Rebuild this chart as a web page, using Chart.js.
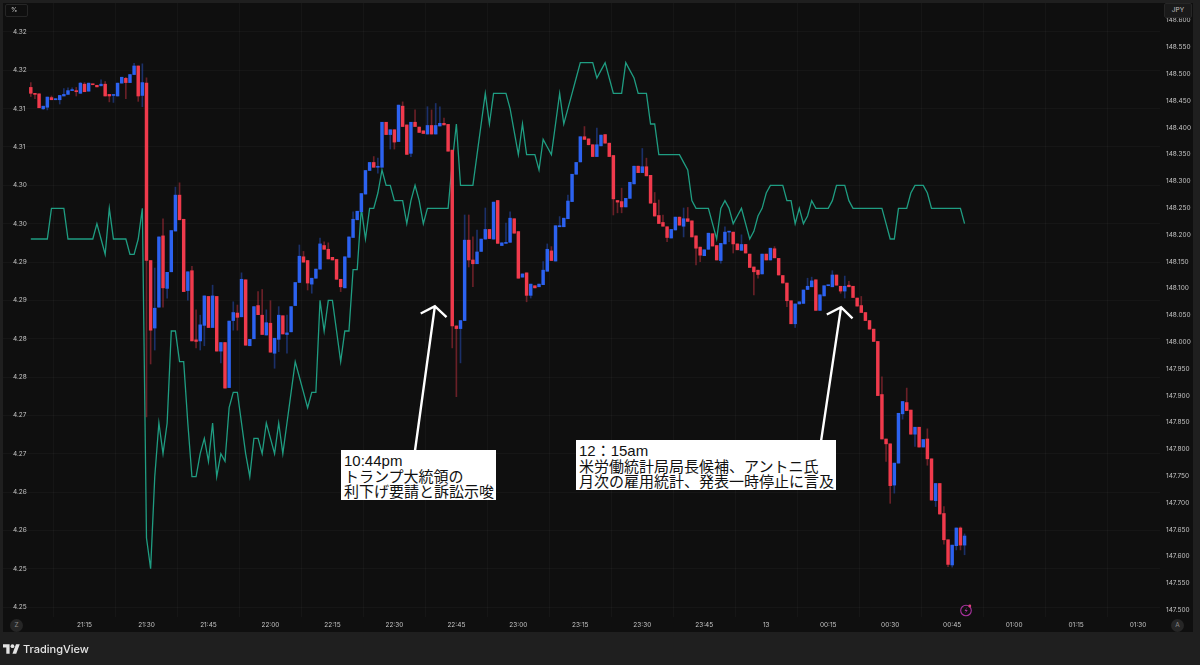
<!DOCTYPE html>
<html>
<head>
<meta charset="utf-8">
<script src="https://cdn.jsdelivr.net/npm/chart.js@4"></script>
<style>
  html, body { margin: 0; padding: 0; background: #1f1f1f; }
  #page { position: relative; width: 1200px; height: 665px; overflow: hidden; font-family: Inter, sans-serif; }
  #pane { position: absolute; left: 3px; top: 3px; width: 1190px; height: 629px; background: #0f0f0f; }
  canvas { position: absolute; left: 0; top: 0; }
  .tag { position: absolute; color: #c4c4c4; font-size: 6.5px; text-align: center; border: 1px solid #262626; border-radius: 2px; box-sizing: border-box; }
  .round { position: absolute; width: 13px; height: 13px; line-height: 13px; border-radius: 50%; background: #262626; color: #8a8a8a; font-size: 6.5px; text-align: center; }
  .note { position: absolute; background: #fff; color: #111; font: 15px/15.5px "Liberation Sans", "Noto Sans CJK JP", sans-serif; white-space: nowrap; padding: 3px 3px 0 3px; box-sizing: border-box; }
  #brand { position: absolute; left: 23px; top: 640px; color: #e4e4e4; font: 500 11px/19px Inter, sans-serif; }
</style>
</head>
<body>
<div id="page">
  <div id="pane"></div>
  <canvas id="chart" width="1200" height="665"></canvas>
  <div class="tag" style="left:5px;top:4px;width:23px;height:13px;line-height:11px;text-align:left;padding-left:5px">%</div>
  <div class="tag" style="left:1164px;top:3px;width:28px;height:15px;line-height:13px;background:#1a1a1a">JPY</div>
  <div class="round" style="left:10px;top:619px">Z</div>
  <div class="round" style="left:1171px;top:619px">A</div>
  <svg style="position:absolute;left:959px;top:603px" width="14" height="14" viewBox="0 0 14 14">
    <circle cx="7" cy="7.5" r="5.3" fill="none" stroke="#a8329e" stroke-width="1.1"/>
    <path d="M8 4.5 5.5 8h1.7L6 10.5 8.8 7H7z" fill="#a8329e"/>
    <circle cx="10.8" cy="3" r="1.4" fill="#e0407a"/>
  </svg>
  <div class="note" style="left:341px;top:450px;width:155px;height:50px">10:44pm<br>トランプ大統領の<br>利下げ要請と訴訟示唆</div>
  <div class="note" style="left:576px;top:440px;width:260px;height:50px">12：15am<br>米労働統計局局長候補、アントニ氏<br>月次の雇用統計、発表一時停止に言及</div>
  <svg style="position:absolute;left:3px;top:643px" width="17" height="11" viewBox="0 0 36 22">
    <path d="M14 22H7V9H0V2h14zM28 22h-8l7.5-20h8z" fill="#e4e4e4"/><circle cx="20" cy="6" r="4" fill="#e4e4e4"/>
  </svg>
  <div id="brand">TradingView</div>
</div>
<script>
// 1 minute USD/JPY bars, first bar is 21:02, x values are minutes after 21:00
const firstBarMinute = 2;

const opens = [
  148.475,148.464,148.463,148.435,148.438,148.456,148.452,148.452,148.459,148.462,148.469,148.469,148.464,148.481,148.468,
  148.481,148.479,148.478,148.481,148.462,148.460,148.459,148.483,148.492,148.484,148.499,148.515,148.460,148.483,
  148.152,148.026,148.065,148.198,148.100,148.131,148.207,148.274,148.229,148.096,
  148.133,148.004,148.002,148.031,148.085,148.027,148.085,147.983,147.999,147.915,
  148.040,148.054,148.047,148.116,147.993,148.006,148.068,148.050,148.013,148.035,
  147.979,148.005,148.049,148.014,148.019,148.068,148.111,148.159,148.152,148.108,
  148.119,148.136,148.180,148.173,148.158,148.154,148.117,148.101,148.158,148.195,
  148.228,148.243,148.276,148.320,148.335,148.326,148.326,148.410,148.387,148.396,
  148.374,148.440,148.405,148.352,148.410,148.401,148.394,148.388,148.404,148.388,
  148.403,148.408,148.406,148.358,148.030,148.025,148.040,148.190,148.153,148.146,
  148.169,148.192,148.210,148.192,148.264,148.180,148.184,148.186,148.230,148.206,
  148.121,148.129,148.087,148.105,148.103,148.107,148.132,148.170,148.151,148.215,
  148.215,148.230,148.262,148.313,148.336,148.383,148.379,148.368,148.346,148.366,
  148.387,148.371,148.348,148.264,148.262,148.252,148.268,148.295,148.328,148.316,
  148.327,148.311,148.259,148.236,148.223,148.215,148.194,148.209,148.233,148.216,
  148.230,148.226,148.198,148.177,148.161,148.173,148.202,148.180,148.152,148.183,
  148.205,148.205,148.183,148.171,148.182,148.164,148.140,148.134,148.127,148.164,
  148.153,148.174,148.156,148.124,148.110,148.077,148.034,148.071,148.072,148.098,
  148.103,148.116,148.059,148.086,148.105,148.103,148.125,148.104,148.095,148.106,
  148.104,148.082,148.068,148.055,148.040,148.024,148.001,147.902,147.819,147.810,
  147.733,147.774,147.866,147.887,147.873,147.828,147.841,147.804,147.819,147.782,
  147.704,147.736,147.680,147.631,147.584,147.620,147.653,147.621
];
const highs = [
  148.484,148.464,148.463,148.440,148.457,148.459,148.454,148.460,148.473,148.474,148.474,148.475,148.484,148.484,148.483,
  148.481,148.479,148.489,148.486,148.462,148.460,148.483,148.494,148.494,148.499,148.520,148.515,148.519,148.493,
  148.152,148.138,148.196,148.230,148.130,148.208,148.289,148.297,148.229,148.131,
  148.141,148.060,148.050,148.086,148.085,148.106,148.085,147.999,147.999,148.039,
  148.075,148.069,148.129,148.116,148.005,148.066,148.094,148.098,148.060,148.077,
  148.007,148.066,148.049,148.050,148.066,148.111,148.181,148.169,148.152,148.119,
  148.136,148.194,148.187,148.185,148.158,148.154,148.117,148.159,148.196,148.243,
  148.244,148.277,148.320,148.335,148.346,148.343,148.410,148.410,148.396,148.396,
  148.442,148.448,148.405,148.410,148.433,148.401,148.394,148.439,148.433,148.445,
  148.439,148.418,148.406,148.358,148.030,148.040,148.237,148.237,148.196,148.209,
  148.192,148.250,148.210,148.261,148.264,148.185,148.222,148.243,148.230,148.206,
  148.127,148.129,148.108,148.105,148.108,148.150,148.183,148.178,148.217,148.234,
  148.231,148.274,148.313,148.335,148.383,148.402,148.379,148.368,148.399,148.386,
  148.387,148.371,148.348,148.264,148.287,148.268,148.298,148.328,148.328,148.361,
  148.343,148.311,148.279,148.265,148.237,148.215,148.210,148.233,148.233,148.250,
  148.251,148.226,148.198,148.177,148.172,148.203,148.202,148.180,148.184,148.215,
  148.206,148.205,148.183,148.200,148.182,148.164,148.140,148.134,148.164,148.164,
  148.175,148.178,148.156,148.124,148.110,148.077,148.071,148.075,148.097,148.119,
  148.121,148.116,148.088,148.105,148.106,148.133,148.125,148.104,148.123,148.113,
  148.104,148.082,148.085,148.055,148.040,148.024,148.001,147.935,147.819,147.810,
  147.774,147.867,147.889,147.914,147.873,147.841,147.841,147.818,147.838,147.782,
  147.736,147.736,147.693,147.631,147.621,147.653,147.655,147.642
];
const lows = [
  148.458,148.454,148.437,148.434,148.433,148.452,148.452,148.444,148.459,148.462,148.469,148.459,148.464,148.467,148.468,
  148.480,148.476,148.478,148.459,148.448,148.447,148.459,148.483,148.454,148.484,148.499,148.449,148.439,147.860,
  147.959,147.985,148.065,148.065,148.082,148.131,148.207,148.228,148.094,148.078,
  148.002,147.989,147.985,147.993,148.027,148.027,147.983,147.961,147.914,147.915,
  148.022,148.022,148.047,147.994,147.993,148.006,148.051,148.014,148.013,147.981,
  147.951,147.982,148.015,147.979,148.019,148.068,148.111,148.149,148.097,148.091,
  148.119,148.136,148.173,148.155,148.153,148.117,148.094,148.101,148.158,148.195,
  148.228,148.243,148.276,148.320,148.326,148.315,148.326,148.387,148.360,148.360,
  148.374,148.402,148.350,148.346,148.402,148.391,148.389,148.388,148.388,148.388,
  148.403,148.405,148.356,147.989,147.898,147.961,148.040,148.140,148.103,148.146,
  148.169,148.192,148.193,148.192,148.184,148.180,148.184,148.186,148.203,148.119,
  148.121,148.075,148.082,148.101,148.103,148.107,148.132,148.152,148.151,148.215,
  148.215,148.230,148.262,148.313,148.336,148.378,148.368,148.346,148.346,148.366,
  148.371,148.346,148.237,148.241,148.241,148.252,148.268,148.295,148.316,148.316,
  148.310,148.259,148.235,148.221,148.216,148.187,148.194,148.209,148.218,148.196,
  148.225,148.196,148.144,148.150,148.161,148.173,148.179,148.153,148.147,148.183,
  148.187,148.166,148.172,148.171,148.166,148.139,148.088,148.119,148.127,148.153,
  148.153,148.157,148.125,148.110,148.066,148.034,148.027,148.071,148.072,148.098,
  148.103,148.059,148.059,148.086,148.105,148.103,148.106,148.091,148.082,148.103,
  148.083,148.067,148.055,148.040,148.024,148.001,147.900,147.819,147.777,147.699,
  147.718,147.774,147.856,147.872,147.828,147.805,147.804,147.804,147.770,147.705,
  147.693,147.679,147.623,147.581,147.580,147.612,147.612,147.603
];
const closes = [
  148.464,148.462,148.437,148.440,148.457,148.452,148.454,148.460,148.462,148.469,148.470,148.467,148.483,148.467,148.483,
  148.480,148.476,148.481,148.459,148.459,148.460,148.483,148.494,148.484,148.499,148.515,148.459,148.484,148.152,
  148.022,148.063,148.196,148.101,148.130,148.208,148.274,148.228,148.094,148.131,
  148.002,148.001,148.032,148.086,148.027,148.086,147.983,147.999,147.914,148.039,
  148.055,148.046,148.117,147.994,148.005,148.066,148.051,148.014,148.036,147.981,
  148.007,148.050,148.015,148.017,148.066,148.111,148.160,148.149,148.110,148.119,
  148.136,148.183,148.173,148.155,148.153,148.117,148.103,148.159,148.196,148.229,
  148.244,148.277,148.320,148.335,148.326,148.327,148.410,148.387,148.396,148.373,
  148.442,148.402,148.350,148.410,148.402,148.391,148.389,148.404,148.388,148.404,
  148.408,148.405,148.356,148.030,148.025,148.040,148.190,148.153,148.146,148.168,
  148.192,148.210,148.193,148.261,148.184,148.185,148.185,148.231,148.203,148.119,
  148.127,148.087,148.108,148.101,148.108,148.134,148.173,148.152,148.217,148.217,
  148.231,148.263,148.313,148.335,148.383,148.378,148.368,148.346,148.368,148.386,
  148.371,148.346,148.267,148.261,148.252,148.268,148.298,148.328,148.316,148.327,
  148.310,148.259,148.235,148.221,148.216,148.195,148.210,148.233,148.218,148.230,
  148.225,148.196,148.175,148.162,148.172,148.203,148.179,148.153,148.184,148.205,
  148.206,148.183,148.172,148.182,148.166,148.139,148.131,148.126,148.164,148.153,
  148.175,148.157,148.125,148.110,148.077,148.034,148.071,148.075,148.097,148.104,
  148.114,148.059,148.088,148.105,148.106,148.125,148.106,148.095,148.104,148.103,
  148.083,148.067,148.055,148.040,148.024,148.001,147.900,147.819,147.810,147.732,
  147.774,147.867,147.889,147.872,147.828,147.841,147.804,147.818,147.782,147.705,
  147.736,147.679,147.631,147.585,147.621,147.653,147.621,147.638
];
const yields = [
  4.298,4.298,4.298,4.298,4.298,4.302,4.302,4.302,4.302,4.298,4.298,4.298,4.298,4.298,4.298,
  4.298,4.300,4.298,4.296,4.302,4.298,4.298,4.298,4.298,4.296,4.296,4.298,4.302,4.259,
  4.255,4.267,4.274,4.270,4.274,4.286,4.286,4.282,4.282,4.274,
  4.267,4.267,4.270,4.272,4.269,4.274,4.267,4.270,4.269,4.276,
  4.278,4.278,4.274,4.270,4.267,4.272,4.272,4.270,4.274,4.272,
  4.270,4.274,4.270,4.274,4.278,4.282,4.280,4.278,4.276,4.278,
  4.278,4.290,4.286,4.290,4.290,4.286,4.282,4.286,4.286,4.294,
  4.294,4.302,4.298,4.302,4.302,4.304,4.307,4.305,4.305,4.303,
  4.303,4.303,4.300,4.303,4.305,4.303,4.300,4.302,4.302,4.302,
  4.302,4.302,4.302,4.308,4.313,4.305,4.305,4.305,4.305,4.309,
  4.313,4.317,4.313,4.317,4.317,4.317,4.317,4.315,4.312,4.309,
  4.313,4.309,4.309,4.309,4.307,4.311,4.310,4.309,4.313,4.317,
  4.313,4.315,4.317,4.319,4.321,4.321,4.321,4.321,4.319,4.320,
  4.321,4.319,4.317,4.317,4.317,4.321,4.320,4.319,4.317,4.317,
  4.317,4.313,4.313,4.309,4.309,4.309,4.309,4.309,4.309,4.308,
  4.307,4.303,4.302,4.302,4.302,4.302,4.300,4.298,4.302,4.303,
  4.302,4.300,4.301,4.302,4.300,4.298,4.299,4.301,4.302,4.304,
  4.305,4.305,4.305,4.305,4.303,4.303,4.300,4.302,4.300,4.301,
  4.303,4.302,4.302,4.302,4.302,4.303,4.305,4.305,4.305,4.303,
  4.302,4.302,4.302,4.302,4.302,4.302,4.302,4.302,4.300,4.298,
  4.298,4.302,4.302,4.302,4.304,4.305,4.305,4.305,4.304,4.302,
  4.302,4.302,4.302,4.302,4.302,4.302,4.302,4.300
];

const timeTicks = [15, 30, 45, 60, 75, 90, 105, 120, 135, 150, 165, 180, 195, 210, 225, 240, 255, 270];
const timeLabels = ['21:15', '21:30', '21:45', '22:00', '22:15', '22:30', '22:45', '23:00', '23:15', '23:30', '23:45', '13', '00:15', '00:30', '00:45', '01:00', '01:15', '01:30'];
const yieldTicks = [4.325, 4.32, 4.315, 4.31, 4.305, 4.3, 4.295, 4.29, 4.285, 4.28, 4.275, 4.27, 4.265, 4.26, 4.255, 4.25];
const yieldLabels = ['4.32', '4.32', '4.31', '4.31', '4.30', '4.30', '4.29', '4.29', '4.28', '4.28', '4.27', '4.27', '4.26', '4.26', '4.25', '4.25'];
const jpyTicks = [148.6, 148.55, 148.5, 148.45, 148.4, 148.35, 148.3, 148.25, 148.2, 148.15, 148.1, 148.05, 148, 147.95, 147.9, 147.85, 147.8, 147.75, 147.7, 147.65, 147.6, 147.55, 147.5];

// arrows under the two notes, [minute, price]
const noteArrows = [
  { tail: [95.0, 147.798], tip: [99.8, 148.067] },
  { tail: [193.3, 147.817], tip: [198.1, 148.065] }
];

const UP = '#2c62f0';
const DOWN = '#f03a4c';
const UP_WICK = 'rgba(44,98,240,0.4)';
const DOWN_WICK = 'rgba(240,58,76,0.4)';
const TICK_FONT = { family: 'Inter, sans-serif', size: 6.5 };

const minuteOf = i => firstBarMinute + i;
const isUp = i => closes[i] >= opens[i];

const noPadding = s => {
  s.paddingTop = 0;
  s.paddingBottom = 0;
  s.paddingLeft = 0;
  s.paddingRight = 0;
};

const arrowPlugin = {
  id: 'noteArrows',
  afterDatasetsDraw(chart) {
    const { ctx, scales } = chart;
    ctx.save();
    ctx.strokeStyle = '#fff';
    ctx.lineWidth = 2.4;
    noteArrows.forEach(a => {
      const x0 = scales.x.getPixelForValue(a.tail[0]);
      const y0 = scales.jpy.getPixelForValue(a.tail[1]);
      const x1 = scales.x.getPixelForValue(a.tip[0]);
      const y1 = scales.jpy.getPixelForValue(a.tip[1]);
      const angle = Math.atan2(y0 - y1, x0 - x1);
      ctx.beginPath();
      ctx.moveTo(x0, y0);
      ctx.lineTo(x1, y1);
      ctx.moveTo(x1 + Math.cos(angle + 0.95) * 16, y1 + Math.sin(angle + 0.95) * 16);
      ctx.lineTo(x1, y1);
      ctx.lineTo(x1 + Math.cos(angle - 0.95) * 16, y1 + Math.sin(angle - 0.95) * 16);
      ctx.stroke();
    });
    ctx.restore();
  }
};

new Chart(document.getElementById('chart'), {
  type: 'bar',
  plugins: [arrowPlugin],
  data: {
    datasets: [
      {
        label: 'body',
        order: 1,
        yAxisID: 'jpy',
        grouped: false,
        barThickness: 2.8,
        minBarLength: 1,
        borderWidth: 0,
        backgroundColor: opens.map((_, i) => isUp(i) ? UP : DOWN),
        data: opens.map((o, i) => ({ x: minuteOf(i), y: [o, closes[i]] }))
      },
      {
        label: 'wick',
        order: 2,
        yAxisID: 'jpy',
        grouped: false,
        barThickness: 1,
        borderWidth: 0,
        backgroundColor: opens.map((_, i) => isUp(i) ? UP_WICK : DOWN_WICK),
        data: lows.map((l, i) => ({ x: minuteOf(i), y: [l, highs[i]] }))
      },
      {
        type: 'line',
        label: 'yield',
        order: 3,
        yAxisID: 'pct',
        borderColor: '#1f9d82',
        borderWidth: 1.3,
        pointRadius: 0,
        tension: 0,
        data: yields.map((v, i) => ({ x: minuteOf(i), y: v }))
      }
    ]
  },
  options: {
    responsive: false,
    animation: false,
    events: [],
    layout: { padding: { left: 3, top: 3, right: 7, bottom: 33 } },
    plugins: { legend: { display: false }, tooltip: { enabled: false } },
    scales: {
      x: {
        type: 'linear',
        offset: false,
        min: -4.73,
        max: 275.3,
        afterBuildTicks: s => { s.ticks = timeTicks.map(value => ({ value })); },
        afterFit: s => { s.height = 15; noPadding(s); },
        grid: { color: 'rgba(255,255,255,0.03)', drawTicks: false },
        border: { display: false },
        ticks: {
          color: '#c4c4c4',
          font: TICK_FONT,
          padding: 4,
          maxRotation: 0,
          autoSkip: false,
          callback: (v, i) => timeLabels[i]
        }
      },
      pct: {
        position: 'left',
        min: 4.2487,
        max: 4.32878,
        afterBuildTicks: s => { s.ticks = yieldTicks.map(value => ({ value })); },
        afterFit: s => { s.width = 0; noPadding(s); },
        grid: { color: 'rgba(255,255,255,0.03)', drawTicks: false },
        border: { display: false },
        ticks: {
          mirror: true,
          color: '#c4c4c4',
          font: TICK_FONT,
          padding: 10,
          autoSkip: false,
          callback: (v, i) => yieldLabels[i]
        }
      },
      jpy: {
        position: 'right',
        min: 147.4869,
        max: 148.6325,
        afterBuildTicks: s => { s.ticks = jpyTicks.map(value => ({ value })); },
        afterFit: s => { s.width = 33; noPadding(s); },
        grid: { display: false, drawTicks: false },
        border: { display: false },
        ticks: {
          color: '#c4c4c4',
          font: TICK_FONT,
          padding: 6,
          autoSkip: false,
          callback: v => v.toFixed(3)
        }
      }
    }
  }
});
</script>
</body>
</html>
